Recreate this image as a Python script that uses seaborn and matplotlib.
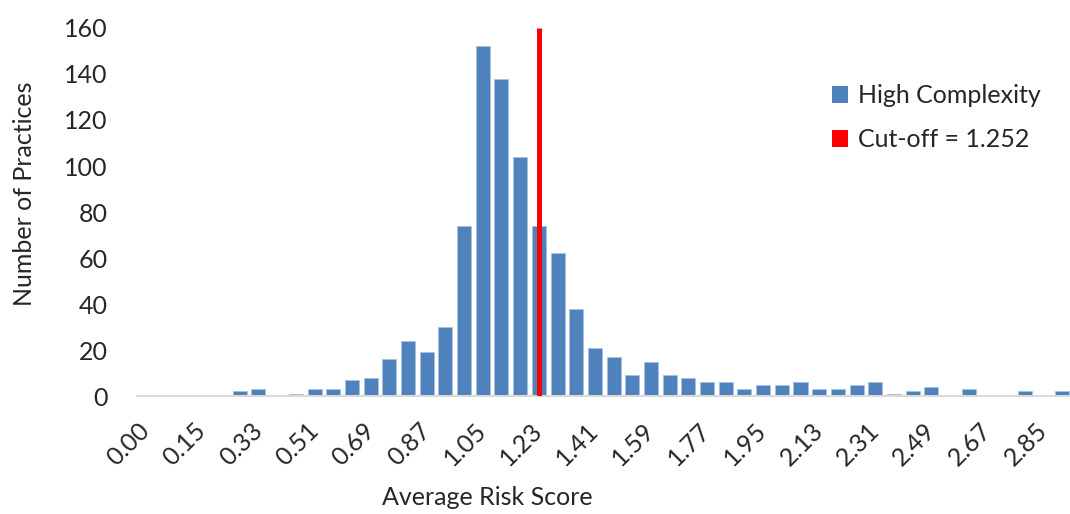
import numpy as np
import matplotlib
matplotlib.use("Agg")
import matplotlib.pyplot as plt
from matplotlib.patches import Patch
import seaborn as sns

# Histogram bins (lower edge labels) and practice counts
bin_labels = ["0.00", "0.03", "0.09"] + [f"{0.15 + 0.06 * k:.2f}" for k in range(47)]
counts = [0, 0, 0, 0, 0, 2, 3, 0, 1, 3,
          3, 7, 8, 16, 24, 19, 30, 74, 152, 138,
          104, 74, 62, 38, 21, 17, 9, 15, 9, 8,
          6, 6, 3, 5, 5, 6, 3, 3, 5, 6,
          1, 2, 4, 0, 3, 0, 0, 2, 0, 2]
cutoff = 1.252
y_ticks = [0, 20, 40, 60, 80, 100, 120, 140, 160]

bar_color = "#4F81BD"
line_color = "#FF0000"
fs = 18

sns.set_theme(style="white")
plt.rcParams["font.family"] = ["Lato", "DejaVu Sans"]

fig = plt.figure(figsize=(10.7, 5.14), dpi=100)
ax = fig.add_axes([137 / 1070, 118 / 514, (1071.5 - 137) / 1070, (396 - 28) / 514])

sns.barplot(x=bin_labels, y=counts, color=bar_color, saturation=1, width=0.75,
            edgecolor="#a9c1e0", linewidth=0.5, ax=ax)

# Cut-off line drawn at the bin containing the cut-off value
edges = np.array([float(s) for s in bin_labels])
cut_idx = int(np.searchsorted(edges, cutoff, side="right") - 1)
ax.vlines(cut_idx, 0, 160, color=line_color, linewidth=3.6, zorder=5)

ax.set_ylim(0, 160)
ax.set_xlim(-0.5, len(bin_labels) - 0.5)
ax.set_yticks(y_ticks)
ax.set_yticklabels([str(v) for v in y_ticks], fontsize=fs)
tick_pos = list(range(0, len(bin_labels), 3))
ax.set_xticks(tick_pos)
ax.set_xticklabels([bin_labels[i] for i in tick_pos], rotation=45, ha="right",
                   va="center", rotation_mode="anchor", fontsize=fs)
ax.tick_params(axis="both", length=0)
ax.tick_params(axis="y", pad=21)
ax.tick_params(axis="x", pad=22)

for side in ["top", "right", "left"]:
    ax.spines[side].set_visible(False)
ax.spines["bottom"].set_color("#d9d9d9")
ax.spines["bottom"].set_linewidth(1.5)

ax.set_ylabel("Number of Practices", fontsize=fs)
ax.set_xlabel("Average Risk Score", fontsize=fs)
ax.yaxis.set_label_coords(-0.108, 0.55)
ax.xaxis.set_label_coords(0.375, -0.245)

handles = [Patch(facecolor=bar_color, edgecolor="none", label="High Complexity"),
           Patch(facecolor=line_color, edgecolor="none", label="Cut-off = 1.252")]
fig.legend(handles=handles, loc="upper left", bbox_to_anchor=(822 / 1070, 1 - 74 / 514),
           frameon=False, fontsize=fs, handlelength=0.65, handleheight=0.65,
           handletextpad=0.4, labelspacing=0.85, borderaxespad=0)

fig.savefig("out.png", dpi=100)
